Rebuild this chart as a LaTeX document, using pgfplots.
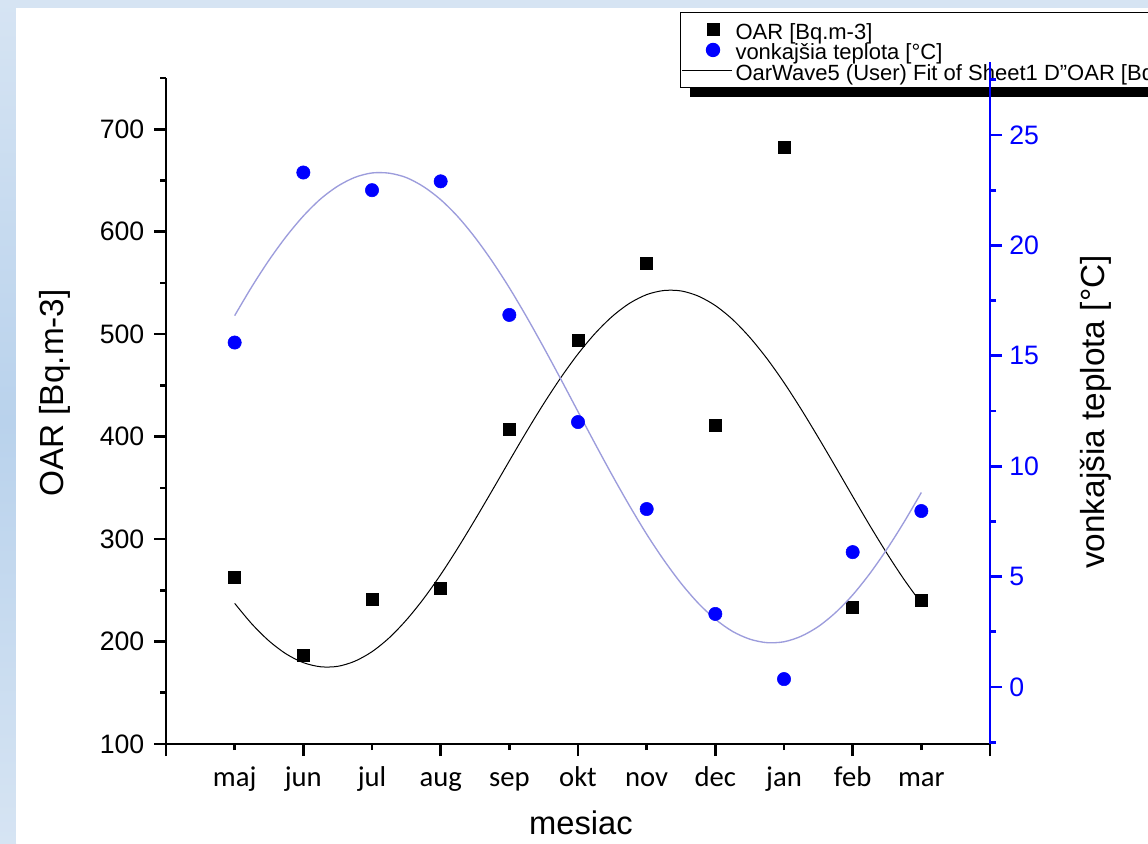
\documentclass[border=0pt]{standalone}
\usepackage{pgfplots}
\pgfplotsset{compat=1.18}
\usepackage{pgfplotstable}
\usepackage{fontspec}
\setmainfont{Liberation Sans}
\newfontfamily\carlito{Carlito}
\definecolor{oblue}{HTML}{0000FF}
\definecolor{fitblue}{HTML}{9C9CDC}
\definecolor{bgA}{HTML}{D6E4F3}
\definecolor{bgB}{HTML}{B9D2EC}

\pgfplotsset{
  markleg/.style={legend image code/.code={\path (0pt,0pt) (37.5pt,0pt);\draw[mark repeat=2,mark phase=2,##1] plot coordinates {(0pt,0pt) (23pt,0pt) (37.5pt,0pt)};}},
  lineleg/.style={legend image code/.code={\draw[##1] (0pt,0pt) -- (37.5pt,0pt);}},
}

\pgfplotstableread{
x y
1 263
2 187
3 241
4 252
5 407
6 494
7 569
8 411
9 682
10 233
11 240
}\oardata

\pgfplotstableread{
x t
1 15.6
2 23.3
3 22.5
4 22.9
5 16.85
6 12.0
7 8.06
8 3.31
9 0.36
10 6.11
11 7.97
}\tempdata

\pgfplotstableread{
x y
1 237.3
1.25 217.2
1.5 200.6
1.75 187.9
2 179.4
2.25 175.4
2.5 175.8
2.75 180.8
3 190.1
3.25 203.6
3.5 221.0
3.75 241.7
4 265.3
4.25 291.3
4.5 318.9
4.75 347.4
5 376.3
5.25 404.8
5.5 432.1
5.75 457.6
6 480.7
6.25 500.8
6.5 517.4
6.75 530.1
7 538.6
7.25 542.6
7.5 542.2
7.75 537.2
8 527.9
8.25 514.4
8.5 497.0
8.75 476.3
9 452.7
9.25 426.7
9.5 399.1
9.75 370.6
10 341.7
10.25 313.2
10.5 285.9
10.75 260.4
11 237.3
}\oarfit

\pgfplotstableread{
x t
1 16.82
1.25 18.13
1.5 19.33
1.75 20.40
2 21.33
2.25 22.10
2.5 22.68
2.75 23.08
3 23.28
3.25 23.27
3.5 23.07
3.75 22.66
4 22.07
4.25 21.30
4.5 20.36
4.75 19.28
5 18.08
5.25 16.77
5.5 15.38
5.75 13.94
6 12.47
6.25 11.01
6.5 9.58
6.75 8.21
7 6.92
7.25 5.75
7.5 4.70
7.75 3.80
8 3.07
8.25 2.52
8.5 2.17
8.75 2.01
9 2.05
9.25 2.30
9.5 2.74
9.75 3.37
10 4.17
10.25 5.14
10.5 6.25
10.75 7.48
11 8.81
}\tempfit

\begin{document}
\begin{tikzpicture}
\useasboundingbox (0,0) rectangle (861pt,632.25pt);
\clip (0,0) rectangle (861pt,632.25pt);
\fill[bgA] (0,0) rectangle (861pt,632.25pt);
\shade[top color=bgA, bottom color=bgA, middle color=bgB] (0,0) rectangle (12pt,632.25pt);
\fill[white] (12pt,0) rectangle (861pt,626.25pt);

\begin{axis}[
  at={(124.5pt,74.25pt)}, anchor=south west,
  scale only axis, width=618pt, height=499.5pt,
  xmin=0, xmax=12, ymin=100, ymax=750,
  axis x line*=bottom, axis y line*=left,
  axis line style={line width=2pt, -, black},
  tick align=outside,
  major tick length=9pt, minor tick length=4.5pt,
  tick style={black, line width=2pt},
  xtick={0,2,...,12}, xticklabels={,,,,,,},
  minor xtick={1,3,...,11},
  extra x ticks={1,2,3,4,5,6,7,8,9,10,11},
  extra x tick labels={maj,jun,jul,aug,sep,okt,nov,dec,jan,feb,mar},
  extra x tick style={major tick length=0pt, tick style={draw=none},
     tick label style={font=\carlito\fontsize{21.5}{24}\selectfont, anchor=base, yshift=-31.5pt}},
  ytick={100,200,...,700}, minor ytick={150,250,...,750},
  yticklabel style={font=\fontsize{20}{24}\selectfont, xshift=-3.75pt},
  /pgf/number format/assume math mode=true,
  xlabel={mesiac},
  xlabel style={font=\fontsize{24.5}{28}\selectfont, at={(axis description cs:0.5036,-0.1366)}, anchor=base, inner sep=0pt},
  ylabel={OAR [Bq.m-3]},
  ylabel style={font=\fontsize{25}{28}\selectfont, at={(axis description cs:-0.1347,0.527)}, anchor=center},
  legend style={at={(axis description cs:0.6238,1.0991)}, anchor=north west,
     draw=black, line width=0.75pt, fill=white,
     font=\fontsize{16.5}{16.5}\selectfont,
     inner xsep=1pt, inner ysep=5pt, row sep=0pt,
     cells={anchor=west},
     nodes={inner ysep=0pt, text height=15.1pt, text depth=0.3pt}},
  legend cell align=left,
  clip mode=individual,
]
\fill[black] (axis description cs:0.6359,0.9715) rectangle (axis description cs:1.5,1.0841);
\addplot[only marks, mark=square*, mark size=4.5pt, black, markleg]
  table[x=x, y=y] {\oardata};
\addlegendentry{OAR [Bq.m-3]}
\addlegendimage{only marks, mark=*, mark size=5pt, oblue, markleg}
\addlegendentry{vonkajšia teplota [°C]}
\addplot[black, line width=0.75pt, smooth, no marks, lineleg]
  table[x=x, y=y] {\oarfit};
\addlegendentry{OarWave5 (User) Fit of Sheet1 D"OAR [Bq.m-3]"}
\end{axis}

\begin{axis}[
  at={(124.5pt,74.25pt)}, anchor=south west,
  scale only axis, width=618pt, height=499.5pt,
  xmin=0, xmax=12, ymin=-2.58, ymax=27.58,
  axis x line=none, axis y line*=right,
  axis line style={line width=2pt, -, oblue},
  tick align=outside,
  major tick length=9pt, minor tick length=4.5pt,
  tick style={oblue, line width=2pt},
  xtick=\empty,
  ytick={0,5,...,25}, minor ytick={-2.5,2.5,...,27.5},
  yticklabel style={font=\fontsize{20}{24}\selectfont, text=oblue, xshift=2pt},
  /pgf/number format/assume math mode=true,
  ylabel={vonkajšia teplota [°C]},
  ylabel style={font=\fontsize{25}{28}\selectfont, at={(axis description cs:1.1286,0.4985)}, anchor=center, black},
  clip mode=individual,
]
\addplot[fitblue, line width=1pt, smooth, no marks] table[x=x, y=t] {\tempfit};
\addplot[only marks, mark=*, mark size=5pt, oblue] table[x=x, y=t] {\tempdata};
\draw[oblue, line width=2pt] (rel axis cs:1,1) -- ++(0pt,12pt);
\end{axis}
\end{tikzpicture}
\end{document}
